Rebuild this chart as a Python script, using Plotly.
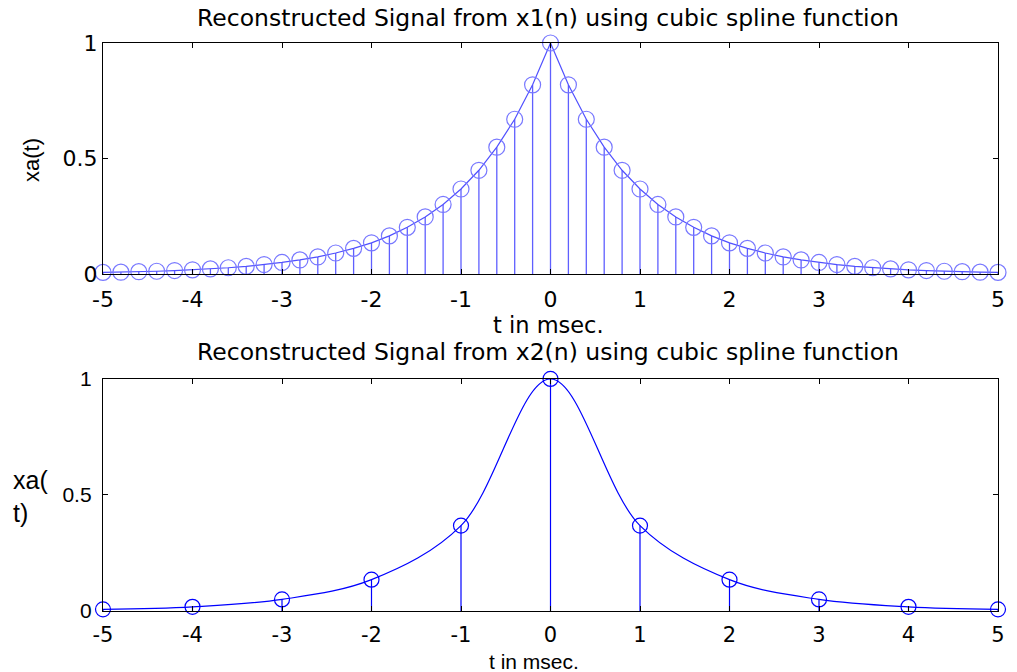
import plotly.graph_objects as go

# ---- data ----
t1 = [-5.0, -4.8, -4.6, -4.4, -4.2, -4.0, -3.8, -3.6, -3.4, -3.2, -3.0, -2.8, -2.6,
      -2.4, -2.2, -2.0, -1.8, -1.6, -1.4, -1.2, -1.0, -0.8, -0.6, -0.4, -0.2, 0.0,
      0.2, 0.4, 0.6, 0.8, 1.0, 1.2, 1.4, 1.6, 1.8, 2.0, 2.2, 2.4, 2.6, 2.8, 3.0,
      3.2, 3.4, 3.6, 3.8, 4.0, 4.2, 4.4, 4.6, 4.8, 5.0]
x1 = [0.007, 0.008, 0.010, 0.012, 0.015, 0.018, 0.022, 0.027, 0.033, 0.041, 0.050,
      0.061, 0.074, 0.091, 0.111, 0.135, 0.165, 0.202, 0.247, 0.301, 0.368, 0.449,
      0.549, 0.670, 0.819, 1.000,
      0.819, 0.670, 0.549, 0.449, 0.368, 0.301, 0.247, 0.202, 0.165, 0.135, 0.111,
      0.091, 0.074, 0.061, 0.050, 0.041, 0.033, 0.027, 0.022, 0.018, 0.015, 0.012,
      0.010, 0.008, 0.007]

t2 = [-5, -4, -3, -2, -1, 0, 1, 2, 3, 4, 5]
x2 = [0.007, 0.018, 0.050, 0.135, 0.368, 1.000, 0.368, 0.135, 0.050, 0.018, 0.007]

xticks = [-5, -4, -3, -2, -1, 0, 1, 2, 3, 4, 5]
xticklabels = ["-5", "-4", "-3", "-2", "-1", "0", "1", "2", "3", "4", "5"]
yticks = [0, 0.5, 1]
yticklabels = ["0", "0.5", "1"]
title1 = "Reconstructed Signal from x1(n) using cubic spline function"
title2 = "Reconstructed Signal from x2(n) using cubic spline function"
xlabel = "t in msec."

WIDE = "DejaVu Sans, Verdana, sans-serif"
ARIAL = "Liberation Sans, Arial, sans-serif"


def stems(t, v):
    xs, ys = [], []
    for a, b in zip(t, v):
        xs += [a, a, None]
        ys += [0, b, None]
    return xs, ys


fig = go.Figure()

# top subplot
sx, sy = stems(t1, x1)
fig.add_trace(go.Scatter(x=sx, y=sy, mode="lines", xaxis="x", yaxis="y",
                         line=dict(color="rgb(95,95,255)", width=1.3),
                         hoverinfo="skip", showlegend=False))
fig.add_trace(go.Scatter(x=t1, y=x1, mode="lines", xaxis="x", yaxis="y",
                         line=dict(color="rgb(80,80,255)", width=1.2),
                         showlegend=False))
fig.add_trace(go.Scatter(x=t1, y=x1, mode="markers", xaxis="x", yaxis="y",
                         marker=dict(symbol="circle-open", size=16,
                                     color="rgb(120,120,255)",
                                     line=dict(width=1.2, color="rgb(120,120,255)")),
                         cliponaxis=False, showlegend=False))

# bottom subplot
sx2, sy2 = stems(t2, x2)
fig.add_trace(go.Scatter(x=sx2, y=sy2, mode="lines", xaxis="x2", yaxis="y2",
                         line=dict(color="rgb(0,0,255)", width=1.2),
                         hoverinfo="skip", showlegend=False))
fig.add_trace(go.Scatter(x=t2, y=x2, mode="lines", xaxis="x2", yaxis="y2",
                         line=dict(color="rgb(0,0,255)", width=1.2, shape="spline",
                                   smoothing=1.0),
                         showlegend=False))
fig.add_trace(go.Scatter(x=t2, y=x2, mode="markers", xaxis="x2", yaxis="y2",
                         marker=dict(symbol="circle-open", size=15,
                                     color="rgb(0,0,255)",
                                     line=dict(width=1.2, color="rgb(0,0,255)")),
                         cliponaxis=False, showlegend=False))

axis_common = dict(showgrid=False, zeroline=False, showline=True, mirror="ticks",
                   linecolor="black", linewidth=1.3, ticks="inside", ticklen=5,
                   tickcolor="black", tickwidth=1.3)

fig.update_layout(
    width=1017, height=672,
    margin=dict(l=103, r=19, t=43, b=61, autoexpand=False),
    paper_bgcolor="white", plot_bgcolor="white",
    font=dict(family=WIDE, color="black"),
    xaxis=dict(domain=[0, 1], anchor="y", range=[-5, 5], tickvals=xticks,
               ticktext=xticklabels, ticklabelstandoff=5,
               tickfont=dict(family=WIDE, size=22, color="black"), **axis_common),
    yaxis=dict(domain=[0.5933, 1], anchor="x", range=[0, 1], tickvals=yticks,
               ticktext=yticklabels,
               tickfont=dict(family=WIDE, size=22, color="black"), **axis_common),
    xaxis2=dict(domain=[0, 1], anchor="y2", range=[-5, 5], tickvals=xticks,
                ticktext=xticklabels, ticklabelstandoff=5,
                tickfont=dict(family=WIDE, size=21, color="black"), **axis_common),
    yaxis2=dict(domain=[0, 0.4085], anchor="x2", range=[0, 1], tickvals=yticks,
                ticktext=yticklabels, ticklabelstandoff=6,
                tickfont=dict(family=ARIAL, size=21, color="black"), **axis_common),
)

ann_list = [
    dict(text=title1, x=548, y=18, size=23.5, fam=WIDE),
    dict(text=title2, x=548, y=352, size=23.5, fam=WIDE),
    dict(text=xlabel, x=548, y=325, size=22.5, fam=WIDE),
    dict(text=xlabel, x=534, y=661, size=21, fam=ARIAL),
]
W, H = 1017, 672
L, R, T, B = 103, 19, 43, 61
pw, ph = W - L - R, H - T - B
annotations = []
for a in ann_list:
    annotations.append(dict(
        text=a["text"], xref="paper", yref="paper",
        x=(a["x"] - L) / pw, y=(H - B - a["y"]) / ph,
        xanchor="center", yanchor="middle", showarrow=False,
        font=dict(family=a["fam"], size=a["size"], color="black")))
# y labels
annotations.append(dict(text="xa(t)", xref="paper", yref="paper",
                        x=(31 - L) / pw, y=(H - B - 160) / ph, textangle=-90,
                        xanchor="center", yanchor="middle", showarrow=False,
                        font=dict(family=ARIAL, size=22, color="black")))
annotations.append(dict(text="xa(<br>t)", xref="paper", yref="paper",
                        x=(11 - L) / pw, y=(H - B - 496) / ph, align="left",
                        xanchor="left", yanchor="middle", showarrow=False,
                        font=dict(family=ARIAL, size=25, color="black")))
fig.update_layout(annotations=annotations)

fig.write_html("out.html")
